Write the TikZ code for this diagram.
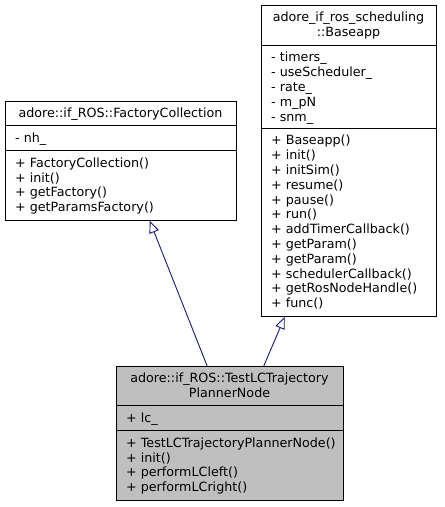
\documentclass[tikz,border=0pt]{standalone}
\usepackage{fontspec}
\setmainfont{DejaVu Sans}
\usetikzlibrary{arrows.meta}
\definecolor{edgeblue}{HTML}{191970}
\definecolor{classgray}{HTML}{BFBFBF}
\newcommand{\astrut}{\rule{0pt}{11.8pt}}
\tikzset{
  classbox/.style={draw=black, line width=0.9pt, anchor=north west, inner sep=0pt, fill=white},
  sepline/.style={draw=black, line width=0.9pt},
  titletext/.style={anchor=north, inner sep=0pt, align=center, font=\fontsize{12.7}{14.8}\selectfont},
  membertext/.style={anchor=north west, inner sep=0pt, align=left, font=\fontsize{12.7}{14.8}\selectfont},
  inh/.style={draw=edgeblue, line width=0.9pt, -{Triangle[open, length=12pt, width=10pt]}}
}
\begin{document}
\begin{tikzpicture}[x=1pt,y=-1pt]
\useasboundingbox (0,0) rectangle (445,507);
% FactoryCollection
\node[classbox, minimum width=231pt, minimum height=119pt] (fc) at (5,101) {};
\draw[sepline] (fc.west |- 0,125.5) -- (fc.east |- 0,125.5);
\draw[sepline] (fc.west |- 0,150.5) -- (fc.east |- 0,150.5);
\node[titletext] (fct) at (120.5,105.85) {\astrut adore::if\_ROS::FactoryCollection};
\node[membertext] (fca) at (15,130.6) {\astrut - nh\_};
\node[membertext] (fcm) at (15,155.35) {\astrut + FactoryCollection()\\+ init()\\+ getFactory()\\+ getParamsFactory()};
% Baseapp
\node[classbox, minimum width=175pt, minimum height=311pt] (ba) at (261,5) {};
\draw[sepline] (ba.west |- 0,45) -- (ba.east |- 0,45);
\draw[sepline] (ba.west |- 0,128) -- (ba.east |- 0,128);
\node[titletext] (bat) at (348.5,9.85) {\astrut adore\_if\_ros\_scheduling\\::Baseapp};
\node[membertext] (baa) at (271,49.85) {\astrut - timers\_\\- useScheduler\_\\- rate\_\\- m\_pN\\- snm\_};
\node[membertext] (bam) at (271,132.85) {\astrut + Baseapp()\\+ init()\\+ initSim()\\+ resume()\\+ pause()\\+ run()\\+ addTimerCallback()\\+ getParam()\\+ getParam()\\+ schedulerCallback()\\+ getRosNodeHandle()\\+ func()};
% TestLCTrajectoryPlannerNode
\node[classbox, fill=classgray, minimum width=227pt, minimum height=134pt] (tl) at (116,366) {};
\draw[sepline] (tl.west |- 0,405.5) -- (tl.east |- 0,405.5);
\draw[sepline] (tl.west |- 0,430.5) -- (tl.east |- 0,430.5);
\node[titletext] (tlt) at (229.5,370.85) {\astrut adore::if\_ROS::TestLCTrajectory\\PlannerNode};
\node[membertext] (tla) at (126,410.35) {\astrut + lc\_};
\node[membertext] (tlm) at (126,435.35) {\astrut + TestLCTrajectoryPlannerNode()\\+ init()\\+ performLCleft()\\+ performLCright()};
% inheritance
\draw[inh] ([xshift=-22.8pt]tl.north) -- ([xshift=28.8pt]fc.south);
\draw[inh] ([xshift=33.8pt]tl.north) -- ([xshift=-64.2pt]ba.south);
\end{tikzpicture}
\end{document}
